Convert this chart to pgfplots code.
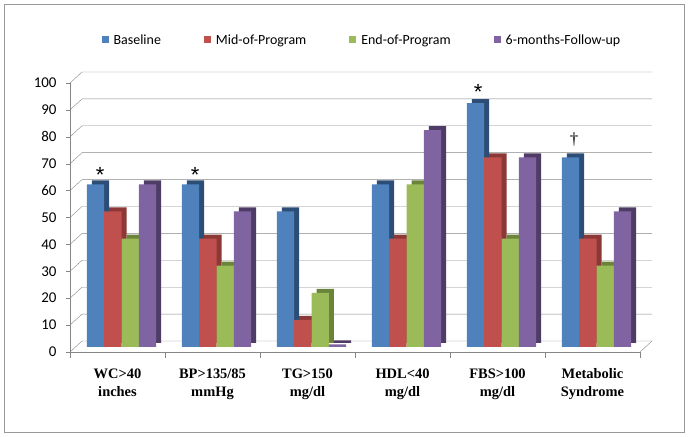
\documentclass[border=0pt]{standalone}
\usepackage{pgfplots}
\pgfplotsset{compat=1.18}
\usepackage{pgfplotstable}
\usepackage{fontspec}
\setmainfont{Carlito}
\newfontfamily\tnr{Liberation Serif}
\newfontfamily\arial{Liberation Sans}
\definecolor{cB}{HTML}{4F81BD}
\definecolor{cR}{HTML}{C0504D}
\definecolor{cG}{HTML}{9BBB59}
\definecolor{cP}{HTML}{8064A2}
\definecolor{dB}{HTML}{2C4D75}
\definecolor{dR}{HTML}{8C3836}
\definecolor{dG}{HTML}{6A843A}
\definecolor{dP}{HTML}{4F3C66}
\definecolor{gridc}{HTML}{868686}

\pgfplotstableread{
x base mid end fol
0 60 50 40 60
1 60 40 30 50
2 50 10 20 1
3 60 40 60 80
4 90 70 40 70
5 70 40 30 50
}\data

\begin{document}
\begin{tikzpicture}
\path (0bp,0bp) rectangle (688bp,437bp);
\draw[gray!80, line width=0.8bp] (4bp,5bp) rectangle (684bp,433bp);
\begin{axis}[
  at={(70bp,85bp)}, anchor=south west,
  scale only axis, width=570bp, height=269bp,
  xmin=-0.5, xmax=5.5, ymin=0, ymax=100,
  axis lines*=left,
  axis line style={gridc},
  ytick={0,10,...,100},
  xtick={0,...,5},
  xticklabels={{WC>40\\inches},{BP>135/85\\mmHg},{TG>150\\mg/dl},{HDL<40\\mg/dl},{FBS>100\\mg/dl},{Metabolic\\Syndrome}},
  minor xtick={-0.5,0.5,...,5.5},
  major x tick style={draw=none},
  tick align=outside,
  major tick length=4bp, minor tick length=6bp,
  tick style={gridc},
  /pgf/number format/assume math mode=true,
  yticklabel style={font=\fontsize{15}{17}\selectfont, xshift=-6bp},
  xticklabel style={align=center, font=\tnr\bfseries\fontsize{14.5}{18}\selectfont, yshift=-9bp},
  clip=false,
]
\pgfplotsinvokeforeach{0,10,...,100}{
  \draw[gridc] (axis cs:-0.5,#1) -- ++(12bp,11bp) -- ([shift={(12bp,11bp)}]axis cs:5.5,#1);
}
\draw[gridc] (axis cs:5.5,0) -- ++(12bp,11bp);
\end{axis}
\begin{axis}[
  at={(74bp,90bp)}, anchor=south west,
  scale only axis, width=570bp, height=271bp,
  xmin=-0.5, xmax=5.5, ymin=0, ymax=100,
  hide axis, clip=false,
  ybar, bar width=0.182,
  legend style={at={(0.5,1)}, anchor=center, yshift=36bp, xshift=3bp, draw=none, fill=none,
    legend columns=4, font=\fontsize{14}{16}\selectfont,
    /tikz/every even column/.append style={column sep=41bp},
    /tikz/every odd column/.append style={column sep=3bp}},
  legend image code/.code={\draw[#1,draw=none] (0bp,-3.5bp) rectangle (7bp,3.5bp);},
]
\addplot[fill=dB, draw=none, bar shift=-0.273, xshift=5bp, yshift=4bp, forget plot] table[x=x,y=base]{\data};
\addplot[fill=cB, draw=none, bar shift=-0.273] table[x=x,y=base]{\data};
\addplot[fill=dR, draw=none, bar shift=-0.091, xshift=5bp, yshift=4bp, forget plot] table[x=x,y=mid]{\data};
\addplot[fill=cR, draw=none, bar shift=-0.091] table[x=x,y=mid]{\data};
\addplot[fill=dG, draw=none, bar shift=0.091, xshift=5bp, yshift=4bp, forget plot] table[x=x,y=end]{\data};
\addplot[fill=cG, draw=none, bar shift=0.091] table[x=x,y=end]{\data};
\addplot[fill=dP, draw=none, bar shift=0.273, xshift=5bp, yshift=4bp, forget plot] table[x=x,y=fol]{\data};
\addplot[fill=cP, draw=none, bar shift=0.273] table[x=x,y=fol]{\data};
\legend{Baseline, Mid-of-Program, End-of-Program, 6-months-Follow-up}
\node[font=\arial\fontsize{22}{22}\selectfont] at (axis cs:-0.226,63.5) {*};
\node[font=\arial\fontsize{22}{22}\selectfont] at (axis cs:0.774,63.5) {*};
\node[font=\arial\fontsize{22}{22}\selectfont] at (axis cs:3.753,94.1) {*};
\node[font=\tnr\fontsize{17}{17}\selectfont] at (axis cs:4.763,76.4) {\textdagger};
\end{axis}
\end{tikzpicture}
\end{document}
